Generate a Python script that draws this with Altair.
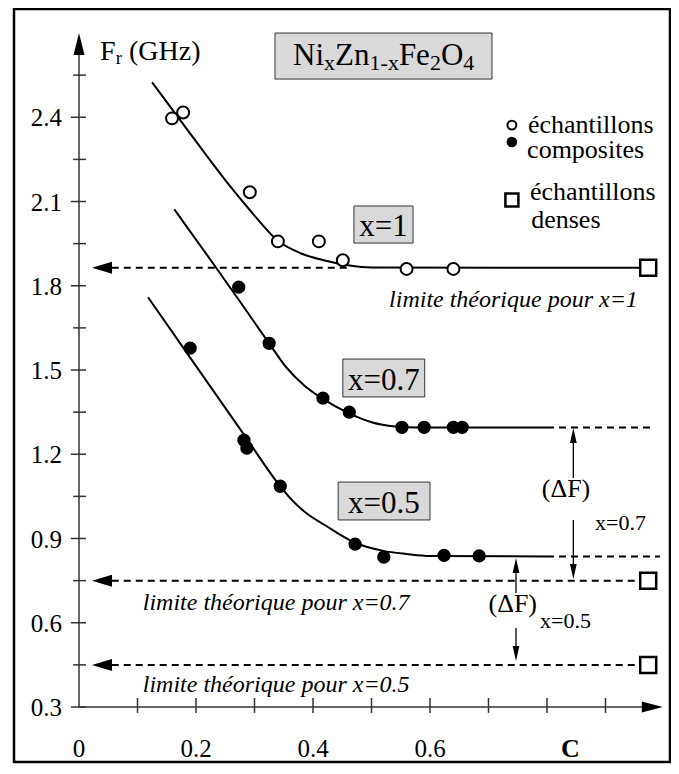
import altair as alt
import pandas as pd

# ---------------- values ----------------
# x = 1 (open circles)
open_c = [0.159, 0.178, 0.292, 0.340, 0.410, 0.451, 0.560, 0.640]
open_f = [2.396, 2.417, 2.133, 1.958, 1.958, 1.891, 1.860, 1.860]
# x = 0.7 (filled dots)
c07 = [0.273, 0.325, 0.417, 0.462, 0.552, 0.590, 0.640, 0.655]
f07 = [1.795, 1.595, 1.400, 1.350, 1.296, 1.296, 1.296, 1.296]
# x = 0.5 (filled dots)
c05 = [0.190, 0.282, 0.287, 0.344, 0.472, 0.521, 0.624, 0.684]
f05 = [1.578, 1.250, 1.222, 1.086, 0.880, 0.834, 0.840, 0.838]
# fitted curves
curve1_c = [0.125, 0.20, 0.26, 0.30, 0.34, 0.38, 0.42, 0.46, 0.50, 0.973]
curve1_f = [2.524, 2.314, 2.15, 2.05, 1.96, 1.915, 1.89, 1.873, 1.865, 1.864]
curve07_c = [0.163, 0.229, 0.273, 0.325, 0.355, 0.385, 0.417, 0.46, 0.50, 0.54, 0.58, 0.80]
curve07_f = [2.072, 1.88, 1.75, 1.595, 1.508, 1.445, 1.397, 1.347, 1.314, 1.299, 1.295, 1.295]
curve05_c = [0.118, 0.19, 0.282, 0.344, 0.365, 0.39, 0.42, 0.472, 0.52, 0.56, 0.60, 0.80]
curve05_f = [1.759, 1.544, 1.27, 1.086, 1.035, 0.988, 0.948, 0.885, 0.856, 0.845, 0.838, 0.836]
# dense samples and theoretical limits
dense_c = [0.973, 0.973, 0.973]
limit_f = [1.864, 0.750, 0.450]
limit_end = [0.463, 0.973, 0.973]
# plateau extensions (dashed)
plateau_f = [1.295, 0.836]
plateau_c0 = [0.80, 0.80]
plateau_c1 = [0.976, 0.993]
# axis ticks
y_major = [0.3, 0.6, 0.9, 1.2, 1.5, 1.8, 2.1, 2.4]
y_minor = [0.45, 0.75, 1.05, 1.35, 1.65, 1.95, 2.25, 2.55]
x_ticks = [0.1, 0.2, 0.3, 0.4, 0.5, 0.6, 0.7, 0.8, 0.9]
x_labels = ["0", "0.2", "0.4", "0.6"]
x_label_pos = [0.0, 0.2, 0.4, 0.6]
y_labels = ["0.3", "0.6", "0.9", "1.2", "1.5", "1.8", "2.1", "2.4"]

FONT = "'Liberation Serif', 'Times New Roman', Times, serif"
XS = alt.Scale(domain=[0, 1.0], nice=False, zero=False)
YS = alt.Scale(domain=[0.3, 2.7], nice=False, zero=False)
X = alt.X("x:Q", scale=XS, axis=None)
Y = alt.Y("y:Q", scale=YS, axis=None)

layers = []


def df(**cols):
    return pd.DataFrame(cols)


def rules(x, y, x2=None, y2=None, **mk):
    d = {"x": x, "y": y}
    enc = {"x": X, "y": Y}
    if x2 is not None:
        d["x2"] = x2
        enc["x2"] = alt.X2("x2:Q")
    if y2 is not None:
        d["y2"] = y2
        enc["y2"] = alt.Y2("y2:Q")
    return alt.Chart(pd.DataFrame(d)).mark_rule(**mk).encode(**enc)


def text(x, y, t, **mk):
    base = dict(font=FONT, color="black", baseline="alphabetic")
    base.update(mk)
    return alt.Chart(df(x=[x], y=[y], t=[t])).mark_text(**base).encode(x=X, y=Y, text="t:N")


def symbol(x, y, shape, size, **mk):
    return alt.Chart(df(x=x, y=y)).mark_point(shape=shape, size=size, **mk).encode(x=X, y=Y)


# ---------------- frame ----------------
layers.append(
    alt.Chart(df(a=[0])).mark_rect(filled=False, stroke="black", strokeWidth=2.5).encode(
        x=alt.value(-65), x2=alt.value(591), y=alt.value(-24), y2=alt.value(729)
    )
)

# ---------------- axes ----------------
AX = dict(color="#333333", strokeWidth=1.5)
layers.append(rules([0.0], [0.3], y2=[2.63], **AX))
layers.append(rules([0.0], [0.3], x2=[0.965], **AX))
layers.append(rules([-0.014] * len(y_major), y_major, x2=[0.012] * len(y_major), **AX))
layers.append(rules([-0.010] * len(y_minor), y_minor, x2=[0.012] * len(y_minor), **AX))
layers.append(rules(x_ticks, [0.279] * len(x_ticks), y2=[0.332] * len(x_ticks), **AX))
UP = "M 0 -1 L 0.5 1 L -0.5 1 Z"
DOWN = "M 0 1 L 0.45 -1 L -0.45 -1 Z"
UPD = "M 0 -1 L 0.45 1 L -0.45 1 Z"
RIGHT = "M 1 0 L -1 -0.52 L -1 0.52 Z"
LEFT = "M -1 0 L 1 -0.6 L 1 0.6 Z"
layers.append(symbol([0.0], [2.661], UP, 484, filled=True, color="black", opacity=1, strokeWidth=0))
layers.append(symbol([0.980], [0.3], RIGHT, 441, filled=True, color="black", opacity=1, strokeWidth=0))

# tick labels
for v, t in zip(y_major, y_labels):
    layers.append(text(0.0, v, t, align="right", baseline="middle", dx=-17, dy=1, fontSize=25))
for v, t in zip(x_label_pos, x_labels):
    layers.append(text(v, 0.3, t, align="center", dy=50, fontSize=25))
layers.append(text(0.84, 0.3, "C", align="center", dy=50, fontSize=26, fontWeight="bold"))

# ---------------- multi-size labels ----------------
W = {"N": 0.722, "i": 0.278, "x": 0.5, "Z": 0.611, "n": 0.5, "1": 0.5, "-": 0.333,
     "F": 0.556, "e": 0.444, "2": 0.5, "O": 0.722, "4": 0.5, "r": 0.333, " ": 0.25,
     "(": 0.333, "G": 0.722, "H": 0.722, "z": 0.444, ")": 0.333}


def pieces(parts, x0, y0):
    off = 0.0
    for t, size, dy in parts:
        lead = len(t) - len(t.lstrip(" "))
        off += lead * W[" "] * size
        s = t.strip(" ")
        layers.append(text(x0, y0, s, align="left", dx=off, dy=dy, fontSize=size))
        off += sum(W[c] for c in s) * size


# y-axis title
pieces([("F", 28, 0), ("r", 19, 4), (" (GHz)", 28, 0)], 0.036, 2.604)

# formula box
layers.append(
    alt.Chart(df(x=[0.335], x2=[0.706], y=[2.700], y2=[2.536])).mark_rect(
        fill="#d9d9d9", stroke="#333333", strokeWidth=1
    ).encode(x=X, x2="x2:Q", y=Y, y2="y2:Q")
)
pieces([("Ni", 31, 0), ("x", 22, 5), ("Zn", 31, 0), ("1-x", 22, 5), ("Fe", 31, 0),
        ("2", 22, 5), ("O", 31, 0), ("4", 22, 5)], 0.366, 2.586)

# composition boxes
box_x0 = [0.470, 0.451, 0.443]
box_x1 = [0.571, 0.591, 0.600]
box_y0 = [2.084, 1.539, 1.101]
box_y1 = [1.952, 1.404, 0.966]
box_t = ["x=1", "x=0.7", "x=0.5"]
box_tx = [0.5205, 0.521, 0.521]
box_ty = [1.977, 1.429, 0.991]
layers.append(
    alt.Chart(df(x=box_x0, x2=box_x1, y=box_y0, y2=box_y1)).mark_rect(
        fill="#d9d9d9", stroke="#333333", strokeWidth=1
    ).encode(x=X, x2="x2:Q", y=Y, y2="y2:Q")
)
for tx, ty, t in zip(box_tx, box_ty, box_t):
    layers.append(text(tx, ty, t, align="center", fontSize=31))

# ---------------- limit lines ----------------
DASH = dict(color="black", strokeWidth=2, strokeDash=[7, 5])
layers.append(rules([0.056] * 3, limit_f, x2=limit_end, **DASH))
layers.append(rules(plateau_c0, plateau_f, x2=plateau_c1, **DASH))
layers.append(symbol([0.0393] * 3, limit_f, LEFT, 400, filled=True, color="black", opacity=1, strokeWidth=0))

lim_t = ["limite théorique pour x=1", "limite théorique pour x=0.7", "limite théorique pour x=0.5"]
lim_x = [0.530, 0.109, 0.109]
lim_y = [1.724, 0.645, 0.353]
for lx, ly, t in zip(lim_x, lim_y, lim_t):
    layers.append(text(lx, ly, t, align="left", fontSize=24, fontStyle="italic"))

# ---------------- ΔF annotations ----------------
AR = dict(color="black", strokeWidth=1.3)
layers.append(rules([0.845, 0.845, 0.747, 0.747], [1.240, 0.966, 0.777, 0.581],
                    y2=[1.115, 0.809, 0.706, 0.517], **AR))
layers.append(symbol([0.845, 0.747], [1.2668, 0.8039], UPD, 225, filled=True, color="black", opacity=1, strokeWidth=0))
layers.append(symbol([0.845, 0.747], [0.7825, 0.4905], DOWN, 225, filled=True, color="black", opacity=1, strokeWidth=0))
layers.append(text(0.8325, 1.0465, "(ΔF)", align="center", fontSize=26))
layers.append(text(0.882, 0.9295, "x=0.7", align="left", fontSize=22))
layers.append(text(0.7415, 0.6383, "(ΔF)", align="center", fontSize=26))
layers.append(text(0.788, 0.5809, "x=0.5", align="left", fontSize=22))

# ---------------- curves ----------------
curves = pd.concat([
    df(x=curve1_c, y=curve1_f, s=["x1"] * len(curve1_c)),
    df(x=curve07_c, y=curve07_f, s=["x07"] * len(curve07_c)),
    df(x=curve05_c, y=curve05_f, s=["x05"] * len(curve05_c)),
])
layers.append(
    alt.Chart(curves).mark_line(color="black", strokeWidth=2, interpolate="monotone").encode(
        x=X, y=Y, detail="s:N"
    )
)

# ---------------- data points ----------------
layers.append(symbol(open_c, open_f, "circle", 143, filled=True, fill="white", stroke="black",
                     strokeWidth=2, opacity=1))
layers.append(symbol(c07 + c05, f07 + f05, "circle", 177, filled=True, color="black", opacity=1,
                     strokeWidth=0))
layers.append(symbol(dense_c, limit_f, "square", 256, filled=True, fill="white", stroke="black",
                     strokeWidth=2.5, opacity=1))

# ---------------- legend ----------------
layers.append(symbol([0.740], [2.372], "circle", 80, filled=True, fill="white", stroke="black",
                     strokeWidth=2, opacity=1))
layers.append(symbol([0.740], [2.312], "circle", 113, filled=True, color="black", opacity=1, strokeWidth=0))
layers.append(symbol([0.740], [2.105], "square", 169, filled=True, fill="white", stroke="black",
                     strokeWidth=2.5, opacity=1))
leg_t = ["échantillons", "composites", "échantillons", "denses"]
leg_x = [0.7675, 0.766, 0.771, 0.773]
leg_y = [2.344, 2.255, 2.105, 2.006]
for lx, ly, t in zip(leg_x, leg_y, leg_t):
    layers.append(text(lx, ly, t, align="left", fontSize=26))

chart = alt.layer(*layers).properties(
    width=585,
    height=674,
    autosize=alt.AutoSizeParams(type="none"),
    padding={"left": 71, "top": 25, "right": 7, "bottom": 57},
    background="white",
).configure_view(stroke=None)

chart.save("out.html", embed_options={"renderer": "svg", "actions": False})
